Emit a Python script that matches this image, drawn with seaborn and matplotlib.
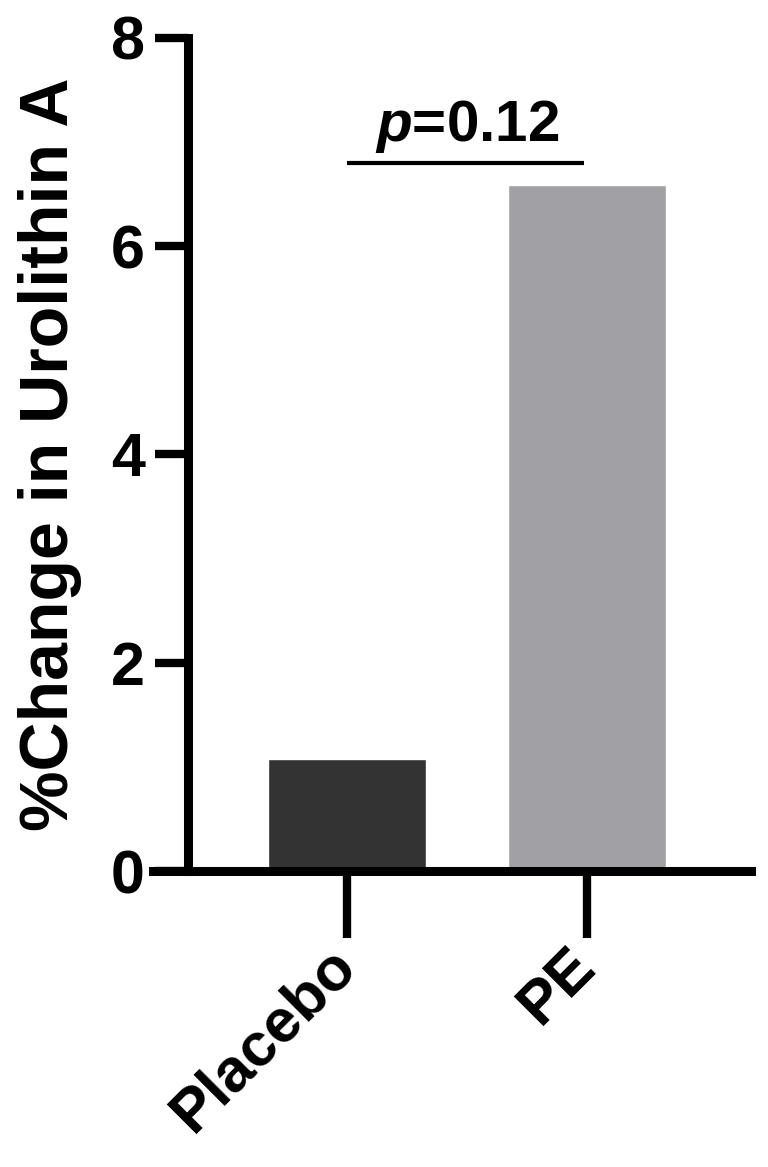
import pandas as pd
import matplotlib
matplotlib.use("Agg")
import matplotlib.pyplot as plt
import seaborn as sns

# Data
groups = ["Placebo", "PE"]
pct_change = [1.08, 6.59]
bar_colors = ["#333333", "#A1A1A5"]
p_label = r"$\mathit{p}$=0.12"

df = pd.DataFrame({"Group": groups, "Change": pct_change})

sns.set_style("ticks")
plt.rcParams["font.family"] = ["Liberation Sans", "DejaVu Sans"]
plt.rcParams["font.weight"] = "bold"
plt.rcParams["mathtext.fontset"] = "custom"
plt.rcParams["mathtext.it"] = "Liberation Sans:italic:bold"
plt.rcParams["mathtext.rm"] = "Liberation Sans:bold"

fig = plt.figure(figsize=(7.68, 11.67), dpi=100)
ax = fig.add_axes([153 / 768, 0.25364, 598 / 768, 0.7138])

sns.barplot(data=df, x="Group", y="Change", hue="Group", palette=bar_colors,
            width=0.66, saturation=1, legend=False, ax=ax)

ax.set_xlim(-0.808, 1.684)
ax.set_ylim(0, 8)
ax.set_yticks([0, 2, 4, 6, 8])

# spines
sns.despine(ax=ax)
for side in ["left", "bottom"]:
    ax.spines[side].set_linewidth(6.5)
    ax.spines[side].set_color("black")
ax.spines["left"].set_position(("axes", 35 / 598))
ax.spines["left"].set_capstyle("projecting")

ax.tick_params(axis="y", length=24, width=6, color="black", pad=7,
               labelsize=44, labelcolor="black")
ax.tick_params(axis="x", length=48, width=6, color="black", pad=14,
               labelsize=44, labelcolor="black")
for lab in ax.get_yticklabels():
    lab.set_fontweight("bold")
for lab in ax.get_xticklabels():
    lab.set_fontweight("bold")
    lab.set_rotation(45)
    lab.set_ha("right")
    lab.set_va("center")
    lab.set_rotation_mode("anchor")

ax.set_xlabel("")
ax.set_ylabel("%Change in Urolithin A", fontsize=49, fontweight="bold", color="black")
ax.yaxis.set_label_coords(-0.118, 0.5)

# significance bar
ax.plot([0, 0.99], [6.80, 6.80], color="black", lw=3, solid_capstyle="butt")
ax.text(0.5, 7.01, p_label, ha="center", va="baseline", fontsize=42,
        fontweight="bold", color="black")

fig.savefig("out.png", dpi=100)
